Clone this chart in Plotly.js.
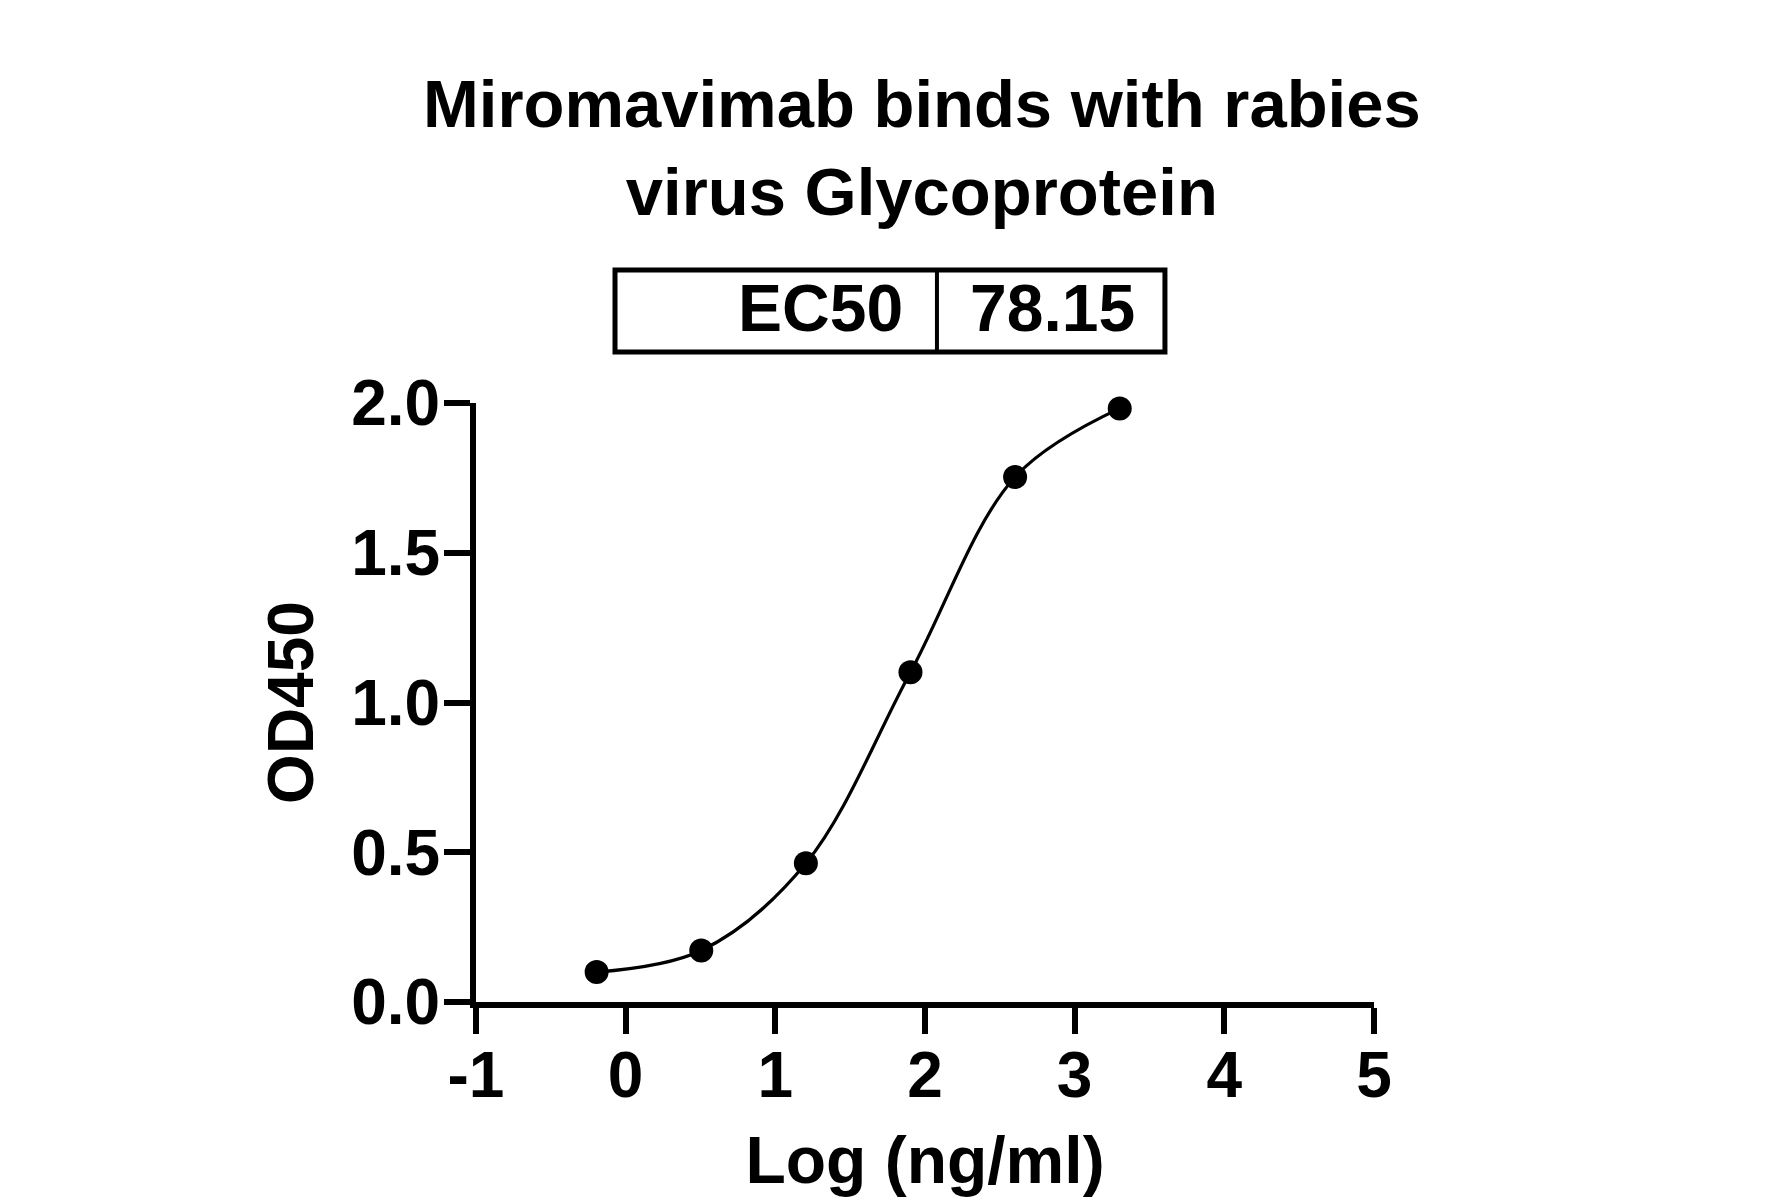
<!DOCTYPE html>
<html>
<head>
<meta charset="utf-8">
<script src="https://cdn.plot.ly/plotly-3.0.1.min.js"></script>
<style>
  html, body { margin: 0; padding: 0; background: #ffffff; }
  #chart { width: 1771px; height: 1197px; }
</style>
</head>
<body>
<div id="chart"></div>
<script>
// Data
const logConc = [-0.194, 0.505, 1.204, 1.903, 2.602, 3.301];   // Log (ng/ml)
const od450   = [0.100, 0.172, 0.463, 1.101, 1.753, 1.982];    // OD450
const xTicks  = [-1, 0, 1, 2, 3, 4, 5];
const yTicks  = [0, 0.5, 1.0, 1.5, 2.0];
const ec50Label = "EC50";
const ec50Value = "78.15";
const chartTitle = "Miromavimab binds with rabies<br>virus Glycoprotein";
const xTitle = "Log (ng/ml)";
const yTitle = "OD450";

const FONT = "Liberation Sans, Arial, Helvetica, sans-serif";

const traces = [
  {
    x: logConc, y: od450,
    type: "scatter", mode: "lines",
    line: { shape: "spline", smoothing: 1.0, color: "#000000", width: 3.2 },
    hoverinfo: "skip", showlegend: false, cliponaxis: false
  },
  {
    x: logConc, y: od450,
    type: "scatter", mode: "markers",
    marker: { size: 24, color: "#000000", symbol: "circle" },
    showlegend: false, cliponaxis: false
  }
];

const layout = {
  width: 1771, height: 1197,
  paper_bgcolor: "#ffffff", plot_bgcolor: "#ffffff",
  margin: { l: 476, r: 397, t: 403, b: 195, pad: 0 },
  font: { family: FONT, color: "#000000" },
  title: {
    text: chartTitle,
    font: { family: FONT, size: 67, weight: "bold", color: "#000000" },
    x: 0.4965, xref: "paper", xanchor: "center",
    y: 0.8935, yref: "container", yanchor: "top"
  },
  xaxis: {
    range: [-1, 5], tickvals: xTicks, ticktext: xTicks.map(String),
    showline: true, linecolor: "#000000", linewidth: 6,
    ticks: "outside", ticklen: 26, tickwidth: 6, tickcolor: "#000000",
    ticklabelstandoff: -14,
    showgrid: false, zeroline: false, automargin: false,
    tickfont: { family: FONT, size: 64, weight: "bold", color: "#000000" },
    title: { text: xTitle, standoff: 70, font: { family: FONT, size: 66, weight: "bold", color: "#000000" } }
  },
  yaxis: {
    range: [0, 2], tickvals: yTicks, ticktext: yTicks.map(v => v.toFixed(1)),
    showline: true, linecolor: "#000000", linewidth: 6,
    ticks: "outside", ticklen: 26, tickwidth: 6, tickcolor: "#000000",
    ticklabelstandoff: -9,
    showgrid: false, zeroline: false, automargin: false,
    tickfont: { family: FONT, size: 64, weight: "bold", color: "#000000" },
    title: { text: yTitle, standoff: 19, font: { family: FONT, size: 64, weight: "bold", color: "#000000" } }
  },
  shapes: [
    { type: "rect", xref: "paper", yref: "paper", x0: 0.1548, x1: 0.7672, y0: 1.0851, y1: 1.2220,
      line: { color: "#000000", width: 5 }, fillcolor: "rgba(0,0,0,0)" },
    { type: "line", xref: "paper", yref: "paper", x0: 0.5133, x1: 0.5133, y0: 1.0851, y1: 1.2220,
      line: { color: "#000000", width: 4 } }
  ],
  annotations: [
    { text: ec50Label, xref: "paper", yref: "paper", x: 0.4777, y: 1.1586,
      xanchor: "right", yanchor: "middle", showarrow: false,
      font: { family: FONT, size: 66, weight: "bold", color: "#000000" } },
    { text: ec50Value, xref: "paper", yref: "paper", x: 0.5479, y: 1.1586,
      xanchor: "left", yanchor: "middle", showarrow: false,
      font: { family: FONT, size: 66, weight: "bold", color: "#000000" } }
  ]
};

Plotly.newPlot("chart", traces, layout, { displayModeBar: false, staticPlot: true });
</script>
</body>
</html>
